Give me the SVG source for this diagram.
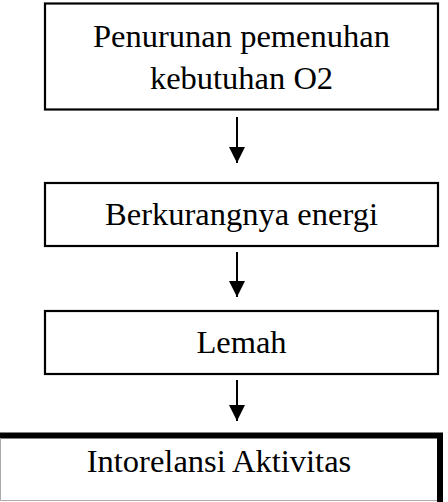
<svg xmlns="http://www.w3.org/2000/svg" width="448" height="502" viewBox="0 0 448 502">
<style>
.box{fill:#fff;stroke:#000;stroke-width:2.2}
.t{font-family:"Liberation Serif","Times New Roman",serif;font-size:32.5px;fill:#000;text-anchor:middle}
.c{stroke:#000;stroke-width:2;fill:none}
</style>
<defs>
<marker id="ah" markerUnits="userSpaceOnUse" markerWidth="17" markerHeight="17" refX="16" refY="8" orient="auto">
<path d="M0,0 L16,8 L0,16 Z" fill="#000"/>
</marker>
</defs>
<rect width="448" height="502" fill="#fff"/>
<g id="connectors">
<line class="c" x1="237" y1="117" x2="237" y2="163" marker-end="url(#ah)"/>
<line class="c" x1="237" y1="252" x2="237" y2="297" marker-end="url(#ah)"/>
<line class="c" x1="237" y1="380" x2="237" y2="421" marker-end="url(#ah)"/>
</g>
<g id="n1">
<rect class="box" x="45" y="3.5" width="393" height="106"/>
<text class="t" x="241.5" y="47">Penurunan pemenuhan</text>
<text class="t" x="241.5" y="89">kebutuhan O2</text>
</g>
<g id="n2">
<rect class="box" x="45" y="183" width="393" height="63"/>
<text class="t" x="241.5" y="225">Berkurangnya energi</text>
</g>
<g id="n3">
<rect class="box" x="45" y="311" width="393" height="63"/>
<text class="t" x="241.5" y="353">Lemah</text>
</g>
<g id="n4">
<rect x="-4" y="435.5" width="444" height="72" fill="#fff" stroke="#000" stroke-width="6"/>
<path d="M0.5,438 V500.5 H437" fill="none" stroke="#aaa" stroke-width="1"/>
<text class="t" x="219" y="472">Intorelansi Aktivitas</text>
</g>
</svg>
